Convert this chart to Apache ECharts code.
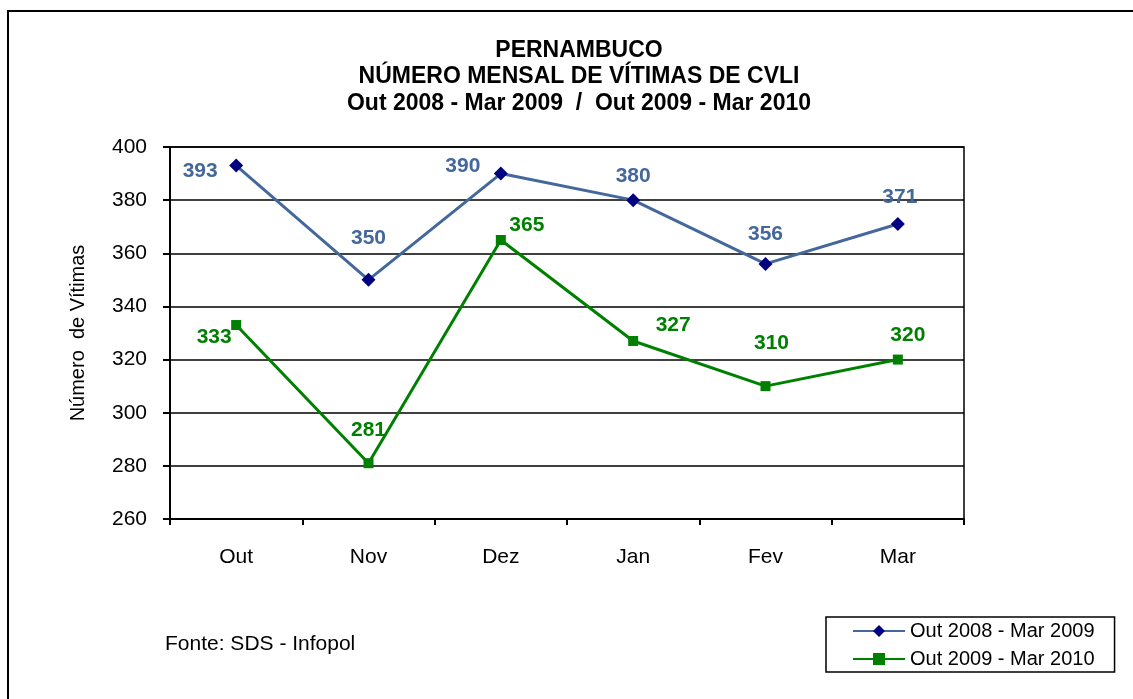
<!DOCTYPE html>
<html>
<head>
<meta charset="utf-8">
<script src="https://cdn.jsdelivr.net/npm/echarts@6/dist/echarts.min.js"></script>
<style>
html, body { margin: 0; padding: 0; background: #fff; }
#chart { width: 1133px; height: 699px; }
</style>
</head>
<body>
<div id="chart"></div>
<script>
var months = ['Out', 'Nov', 'Dez', 'Jan', 'Fev', 'Mar'];
var serie2009 = [393, 350, 390, 380, 356, 371];
var serie2010 = [333, 281, 365, 327, 310, 320];
var nomes = ['Out 2008 - Mar 2009', 'Out 2009 - Mar 2010'];

// label offsets so the numbers sit where the original puts them
var offsBlue = [[-36, 23], [0, -24], [-38, 10], [0, -6], [0, -12], [2, -9]];
var offsGreen = [[-22, 28], [0, -17], [26, 1], [40, 0], [6, -27], [10, -9]];

function withLabels(values, offs) {
    return values.map(function (v, i) {
        return { value: v, label: { offset: offs[i] } };
    });
}

var myChart = echarts.init(document.getElementById('chart'));
myChart.setOption({
    animation: false,
    backgroundColor: '#fff',
    textStyle: { fontFamily: 'Liberation Sans, Arial, sans-serif' },
    title: {
        text: 'PERNAMBUCO\nNÚMERO MENSAL DE VÍTIMAS DE CVLI\nOut 2008 - Mar 2009  /  Out 2009 - Mar 2010',
        left: 574,
        top: 32,
        textAlign: 'center',
        textStyle: {
            fontSize: 23,
            fontWeight: 'bold',
            color: '#000',
            lineHeight: 26.5
        }
    },
    graphic: [
        {
            type: 'rect',
            shape: { x: 8, y: 11, width: 1140, height: 700 },
            style: { fill: 'none', stroke: '#000', lineWidth: 2 }
        },
        {
            type: 'text',
            left: 165,
            top: 634,
            style: { text: 'Fonte: SDS - Infopol', fontSize: 21, fill: '#000', fontFamily: 'Liberation Sans, Arial, sans-serif' }
        }
    ],
    legend: {
        orient: 'vertical',
        left: 826,
        top: 617,
        padding: [4, 20, 3, 26],
        itemGap: 8,
        itemWidth: 52,
        itemHeight: 15,
        borderColor: '#000',
        borderWidth: 1.5,
        textStyle: { fontSize: 20, color: '#000' },
        data: nomes
    },
    grid: {
        left: 170,
        right: 169,
        top: 147,
        bottom: 180,
        show: true,
        borderColor: '#000',
        borderWidth: 1.5
    },
    xAxis: {
        type: 'category',
        data: months,
        boundaryGap: true,
        axisLine: { lineStyle: { color: '#000', width: 2 } },
        axisTick: { show: true, length: 6, lineStyle: { color: '#000', width: 2 } },
        axisLabel: { color: '#000', fontSize: 21, margin: 28 }
    },
    yAxis: {
        type: 'value',
        min: 260,
        max: 400,
        interval: 20,
        name: 'Número  de Vítimas',
        nameLocation: 'middle',
        nameGap: 82,
        nameTextStyle: { color: '#000', fontSize: 20 },
        axisLine: { show: true, lineStyle: { color: '#000', width: 2 } },
        axisTick: { show: true, length: 7, lineStyle: { color: '#000', width: 2 } },
        axisLabel: { color: '#000', fontSize: 21, margin: 23 },
        splitLine: { lineStyle: { color: '#000', width: 1.5 } }
    },
    series: [
        {
            name: nomes[0],
            type: 'line',
            symbol: 'diamond',
            symbolSize: 14,
            itemStyle: { color: '#000080' },
            lineStyle: { color: '#44689b', width: 3 },
            label: {
                show: true,
                position: 'top',
                distance: 0,
                color: '#44689b',
                fontSize: 21,
                fontWeight: 'bold'
            },
            data: withLabels(serie2009, offsBlue)
        },
        {
            name: nomes[1],
            type: 'line',
            symbol: 'rect',
            symbolSize: 10,
            itemStyle: { color: '#008000' },
            lineStyle: { color: '#008000', width: 3 },
            label: {
                show: true,
                position: 'top',
                distance: 0,
                color: '#008000',
                fontSize: 21,
                fontWeight: 'bold'
            },
            data: withLabels(serie2010, offsGreen)
        }
    ]
});
</script>
</body>
</html>
